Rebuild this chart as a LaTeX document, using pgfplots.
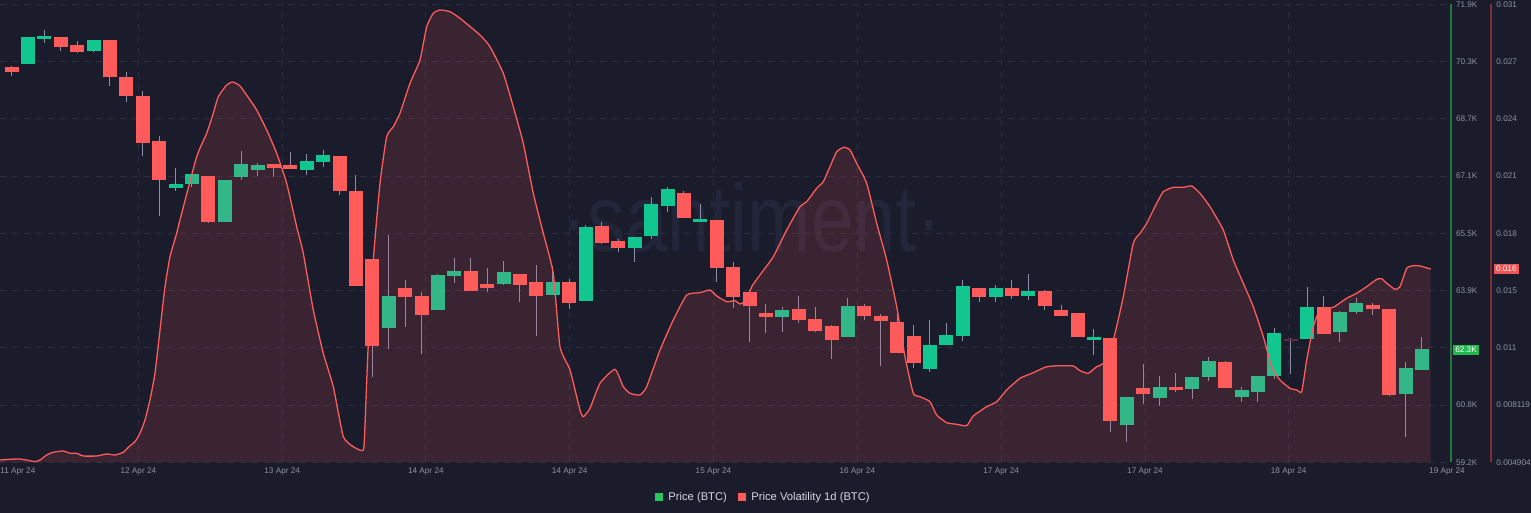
\documentclass[border=0pt]{standalone}
\usepackage{fontspec}
\setmainfont{Liberation Sans}
\usepackage{pgfplots}
\usepackage{pgfplotstable}
\pgfplotsset{compat=1.18}

\definecolor{bg}{HTML}{1A1C2B}
\definecolor{gridc}{HTML}{2A2D3F}
\definecolor{tickc}{HTML}{8E91A3}
\definecolor{cgreen}{HTML}{12C690}
\definecolor{cred}{HTML}{FF5B5B}
\definecolor{wick}{HTML}{8C8EA8}
\definecolor{volred}{HTML}{FF5B5B}
\definecolor{paxis}{HTML}{1F7A3C}
\definecolor{vaxis}{HTML}{7C2F37}
\definecolor{legtext}{HTML}{D5D7E0}
\definecolor{leggreen}{HTML}{26C65A}
\definecolor{tagg}{HTML}{21B84E}
\definecolor{tagr}{HTML}{F05656}
\definecolor{wm}{HTML}{23263A}

\newcommand{\tickfont}{\fontsize{4.1}{4.5}\selectfont}
% candle: index, open, high, low, close
\newcommand{\candle}[6]{%
  \addplot[wick, line width=0.5pt] coordinates {(#2,#5) (#2,#4)};
  \addplot[#1, line width=7pt, shorten <=-0.55pt, shorten >=-0.55pt] coordinates {(#2,#3) (#2,#6)};}
\newcommand{\up}{\candle{cgreen}}
\newcommand{\dn}{\candle{cred}}
\newcommand{\fd}{\candle{cred!30!bg}}

\pgfplotstableread{
x y
-0.707 0.005035
-0.098 0.005075
0.512 0.005092
1.122 0.004995
1.427 0.004938
1.732 0.005035
2.140 0.005320
2.543 0.005474
3.152 0.005548
3.561 0.005417
3.970 0.005417
4.372 0.005263
5.189 0.005263
5.799 0.005377
6.305 0.005320
6.811 0.005474
7.116 0.005759
7.524 0.006078
7.829 0.006556
8.134 0.007314
8.439 0.008454
8.744 0.009975
9.049 0.012442
9.354 0.014910
9.659 0.016619
10.067 0.017952
10.268 0.018710
11.287 0.022317
11.896 0.023650
12.299 0.024789
12.604 0.025735
13.116 0.026402
13.482 0.026573
13.927 0.026345
14.537 0.025547
14.945 0.024977
15.555 0.023838
16.165 0.022510
16.774 0.020801
17.384 0.018328
17.787 0.016813
18.396 0.013582
19.006 0.011115
19.616 0.009212
20.226 0.006363
20.835 0.005793
21.348 0.005565
21.488 0.005793
21.610 0.008454
21.732 0.011303
22.055 0.016431
22.463 0.020801
22.872 0.023456
23.274 0.024026
23.683 0.024789
24.293 0.026499
24.902 0.027826
25.311 0.029724
25.713 0.030487
26.122 0.030675
26.732 0.030578
27.341 0.030202
28.561 0.029251
29.171 0.028584
29.982 0.027069
30.591 0.025165
31.201 0.023080
31.811 0.020231
32.421 0.017952
33.030 0.015673
33.439 0.011491
34.049 0.010163
34.659 0.007884
34.860 0.007502
35.268 0.007981
35.878 0.009405
36.793 0.010203
37.299 0.009212
37.707 0.008836
38.317 0.008739
38.726 0.009212
39.537 0.011303
40.348 0.013012
41.165 0.014436
41.976 0.014568
42.585 0.014721
42.994 0.014380
43.604 0.014055
44.110 0.014112
44.415 0.013924
44.823 0.014152
45.128 0.014909
45.634 0.015576
46.445 0.016619
47.262 0.018140
48.073 0.019468
48.482 0.019753
49.091 0.020516
49.494 0.020892
49.902 0.021747
50.311 0.022601
50.756 0.022852
51.122 0.022698
51.530 0.021940
52.140 0.020801
52.750 0.018522
53.360 0.016431
53.970 0.013770
54.476 0.010921
54.982 0.008836
55.390 0.008642
56.000 0.008357
56.409 0.007599
57.018 0.007161
57.628 0.007069
58.238 0.006989
58.640 0.007542
59.457 0.008072
60.067 0.008357
60.677 0.009024
61.488 0.009690
62.299 0.010009
63.116 0.010351
63.927 0.010408
64.738 0.010391
65.146 0.010123
65.652 0.009975
66.165 0.010351
66.567 0.010545
67.177 0.011872
67.787 0.014340
68.396 0.017382
68.805 0.017952
69.213 0.018522
69.823 0.019661
70.226 0.020322
70.835 0.020573
71.445 0.020573
71.957 0.020647
72.463 0.020231
73.073 0.019468
73.884 0.018140
74.494 0.016431
75.104 0.015103
75.713 0.013770
76.323 0.012061
76.835 0.010351
77.341 0.009593
77.951 0.009120
78.360 0.009024
78.665 0.008927
78.970 0.010733
79.372 0.012630
79.780 0.013582
80.591 0.013736
81.409 0.014249
82.018 0.014533
82.628 0.014909
83.238 0.015331
83.543 0.015365
83.848 0.015103
84.354 0.014761
84.659 0.014909
85.067 0.015958
85.470 0.016106
85.878 0.016089
86.530 0.015918
}\voldata

\begin{document}
\begin{tikzpicture}
\fill[bg] (0,-25.35pt) rectangle (765.5pt,231.15pt);
\node[text=wm, font=\fontsize{38}{38}\selectfont, anchor=base, inner sep=0pt,
  yscale=1.25, transform shape] at (376pt,105.15pt) {·santiment·};

\begin{axis}[
  at={(0,0)}, anchor=south west,
  scale only axis, width=725.5pt, height=229pt,
  xmin=-0.707, xmax=87.77, ymin=59200, ymax=71900,
  clip mode=individual,
  axis x line*=bottom, axis y line*=right,
  x axis line style={draw=none},
  y axis line style={draw=paxis, line width=0.6pt},
  major tick length=0pt,
  xtick={7.73,16.50,25.26,34.03,42.80,51.57,60.34,69.11,77.87},
  xticklabels={12 Apr 24,13 Apr 24,14 Apr 24,14 Apr 24,15 Apr 24,16 Apr 24,17 Apr 24,17 Apr 24,18 Apr 24},
  ytick={59200,60787.5,62375,63962.5,65550,67137.5,68725,70312.5,71900},
  yticklabels={59.2K,60.8K,,63.9K,65.5K,67.1K,68.7K,70.3K,},
  grid=major,
  grid style={gridc, dash pattern=on 3pt off 3pt, line width=0.5pt},
  tick label style={font=\tickfont, text=tickc},
  yticklabel style={anchor=west, xshift=2.3pt, inner sep=0pt},
  xticklabel style={anchor=base, yshift=-5.6pt, inner sep=0pt},
]
\dn{0}{70140}{70200}{69920}{70040}
\up{1}{70280}{70960}{70240}{70960}
\up{2}{70975}{71190}{70830}{70990}
\dn{3}{70950}{70990}{70600}{70740}
\dn{4}{70735}{70875}{70540}{70605}
\up{5}{70625}{70890}{70585}{70890}
\dn{6}{70875}{70875}{69640}{69910}
\dn{7}{69840}{70020}{69200}{69390}
\dn{8}{69320}{69500}{67700}{68090}
\dn{9}{68090}{68240}{66030}{67060}
\up{10}{66850}{67370}{66730}{66875}
\up{11}{66950}{67160}{66825}{67160}
\dn{12}{67120}{67120}{65840}{65880}
\up{13}{65880}{67000}{65880}{67000}
\up{14}{67140}{67840}{67030}{67450}
\up{15}{67340}{67500}{67140}{67415}
\dn{16}{67450}{67460}{67120}{67380}
\dn{17}{67400}{67800}{67330}{67360}
\up{18}{67340}{67750}{67175}{67525}
\up{19}{67545}{67870}{67400}{67695}
\dn{20}{67665}{67690}{66610}{66750}
\dn{21}{66690}{67165}{64125}{64125}
\dn{22}{64800}{64800}{61555}{62450}
\up{23}{62945}{65500}{62340}{63790}
\dn{24}{64000}{64255}{62960}{63810}
\dn{25}{63785}{63930}{62195}{63310}
\up{26}{63450}{64415}{63420}{64375}
\up{27}{64395}{64875}{64165}{64475}
\dn{28}{64485}{64865}{63960}{63985}
\dn{29}{64125}{64590}{63915}{64070}
\up{30}{64170}{64780}{64115}{64455}
\dn{31}{64385}{64420}{63645}{64135}
\dn{32}{64165}{64670}{62710}{63830}
\up{33}{63875}{64635}{63865}{64170}
\dn{34}{64165}{64285}{63440}{63655}
\up{35}{63700}{65780}{63700}{65705}
\dn{36}{65715}{65865}{65255}{65315}
\dn{37}{65315}{65385}{65030}{65170}
\up{38}{65180}{65430}{64760}{65430}
\up{39}{65495}{66565}{65390}{66325}
\up{40}{66345}{66825}{66150}{66760}
\dn{41}{66640}{66715}{65995}{65995}
\up{42}{65900}{66360}{65890}{65920}
\dn{43}{65900}{65900}{64210}{64625}
\dn{44}{64580}{64760}{63470}{63805}
\dn{45}{63905}{63980}{62545}{63570}
\dn{46}{63305}{63590}{62775}{63250}
\up{47}{63250}{63515}{62805}{63405}
\dn{48}{63415}{63810}{63055}{63180}
\dn{49}{63145}{63505}{62805}{62860}
\dn{50}{62960}{63005}{62065}{62610}
\up{51}{62710}{63765}{62665}{63515}
\dn{52}{63505}{63590}{63135}{63285}
\dn{53}{63230}{63305}{61880}{63155}
\dn{54}{63070}{63305}{62220}{62265}
\dn{55}{62685}{63005}{61805}{61990}
\up{56}{61805}{63145}{61710}{62425}
\up{57}{62480}{63055}{62480}{62700}
\up{58}{62720}{64255}{62570}{64060}
\dn{59}{64015}{64015}{63655}{63805}
\up{60}{63805}{64115}{63655}{64005}
\dn{61}{64005}{64255}{63730}{63830}
\up{62}{63840}{64420}{63700}{63915}
\dn{63}{63915}{63980}{63425}{63555}
\dn{64}{63405}{63560}{63275}{63275}
\dn{65}{63310}{63310}{62690}{62695}
\up{66}{62610}{62895}{62185}{62645}
\dn{67}{62625}{62625}{60040}{60375}
\up{68}{60270}{60990}{59770}{60990}
\dn{69}{61225}{61925}{60810}{61115}
\up{70}{61020}{61595}{60760}{61260}
\dn{71}{61270}{61685}{61155}{61230}
\up{72}{61250}{61575}{60945}{61540}
\up{73}{61600}{62130}{61465}{61980}
\dn{74}{61945}{62015}{61290}{61290}
\up{75}{61040}{61295}{60880}{61170}
\up{76}{61170}{61575}{60880}{61575}
\up{77}{61610}{62930}{61510}{62750}
\fd{78}{62600}{62655}{61640}{62585}
\up{79}{62655}{64070}{62655}{63485}
\dn{80}{63470}{63810}{62775}{62775}
\up{81}{62840}{63405}{62545}{63350}
\up{82}{63395}{63755}{63320}{63590}
\dn{83}{63535}{63610}{63285}{63485}
\dn{84}{63425}{63425}{61040}{61100}
\up{85}{61120}{61980}{59900}{61785}
\up{86}{61780}{62685}{61780}{62315}
\node[fill=tagg, text=white, font=\tickfont, inner sep=0pt,
  minimum height=4.7pt, minimum width=13pt, anchor=west]
  at ([xshift=0.8pt]axis cs:87.77,62314) {62.3K};
\end{axis}

\begin{axis}[
  at={(0,0)}, anchor=south west,
  scale only axis, width=725.5pt, height=229pt,
  xmin=-0.707, xmax=87.77, ymin=0.004904, ymax=0.031,
  clip mode=individual,
  hide x axis,
  axis y line*=right,
  y axis line style={draw=none},
  major tick length=0pt,
  scaled y ticks=false,
  ytick={0.004904,0.008166,0.011428,0.01469,0.017952,0.021214,0.024476,0.027738,0.031},
  yticklabels={0.004904,0.008119,0.011,0.015,0.018,0.021,0.024,0.027,},
  tick label style={font=\tickfont, text=tickc},
  yticklabel style={anchor=west, xshift=22.5pt, inner sep=0pt},
]
\addplot[draw=none, fill=volred, fill opacity=0.14] table {\voldata} \closedcycle;
\addplot[volred, line width=0.65pt, smooth, tension=0.3] table {\voldata};
\node[fill=tagr, text=white, font=\tickfont, inner sep=0pt,
  minimum height=4.7pt, minimum width=12.5pt, anchor=west]
  at ([xshift=21.2pt]axis cs:87.77,0.015918) {0.016};
\end{axis}

\draw[vaxis, line width=0.6pt] (745.5pt,0) -- (745.5pt,229pt);
% top labels kept just inside the picture
\node[text=tickc, font=\tickfont, inner sep=0pt, anchor=north west] at (727.8pt,230.7pt) {71.9K};
\node[text=tickc, font=\tickfont, inner sep=0pt, anchor=north west] at (748pt,230.7pt) {0.031};
\node[text=tickc, font=\tickfont, inner sep=0pt, anchor=base west] at (0pt,-5.6pt) {11 Apr 24};
\node[text=tickc, font=\tickfont, inner sep=0pt, anchor=base] at (723.5pt,-5.6pt) {19 Apr 24};

\fill[leggreen] (327.5pt,-19.3pt) rectangle (331.5pt,-15.3pt);
\node[text=legtext, font=\fontsize{5.6}{6}\selectfont, inner sep=0pt, anchor=base west] at (334pt,-19.3pt) {Price (BTC)};
\fill[cred] (369pt,-19.3pt) rectangle (373pt,-15.3pt);
\node[text=legtext, font=\fontsize{5.6}{6}\selectfont, inner sep=0pt, anchor=base west] at (375.5pt,-19.3pt) {Price Volatility 1d (BTC)};

\pgfresetboundingbox
\path[use as bounding box] (0,-25.35pt) rectangle (765.5pt,231.15pt);
\end{tikzpicture}
\end{document}
